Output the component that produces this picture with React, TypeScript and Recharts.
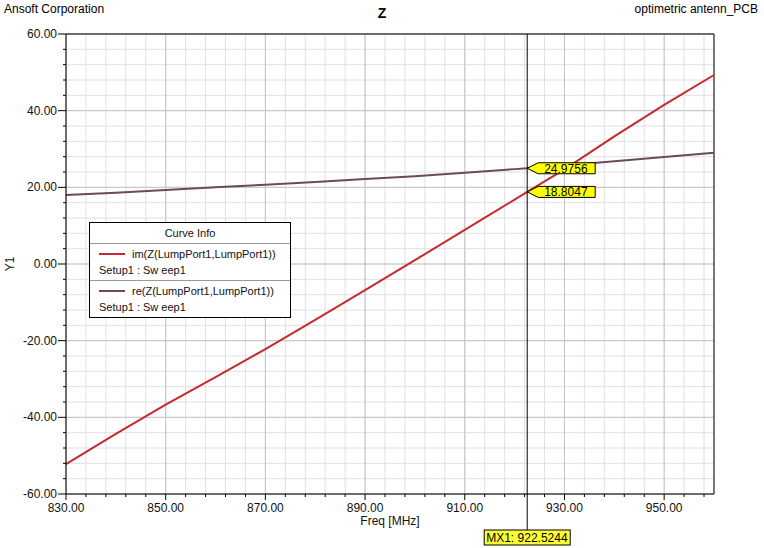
import React from 'react';
import { LineChart, Line, XAxis, YAxis, CartesianGrid, ReferenceLine, ReferenceDot } from 'recharts';

// sweep frequencies (MHz) and the two impedance traces
const freqs = [830, 840, 850, 860, 870, 880, 890, 900, 910, 920, 930, 940, 950, 960];
const imZ = [-52.2, -44.3, -36.7, -29.5, -22.2, -14.6, -6.8, 1.0, 8.9, 16.8, 24.7, 33.3, 41.5, 49.3];
const reZ = [18.0, 18.6, 19.3, 20.0, 20.7, 21.4, 22.15, 22.9, 23.8, 24.75, 25.7, 26.8, 27.9, 29.0];

// marker MX1
const markerFreq = 922.5244;
const markerIm = 18.8047;
const markerRe = 24.9756;

const xMajor = [830, 850, 870, 890, 910, 930, 950];
const yMajor = [-60, -40, -20, 0, 20, 40, 60];
const xMinor = Array.from({ length: 33 }, (_, i) => 830 + i * 4);
const yMinor = Array.from({ length: 31 }, (_, i) => -60 + i * 4);

const IM_COLOR = '#c42a2e';
const RE_COLOR = '#6a4a60';
const FONT = '"Liberation Sans", Arial, sans-serif';

const data = [
  ...freqs.map((f, i) => ({ freq: f, im: imZ[i], re: reZ[i] })),
  { freq: markerFreq, im: markerIm, re: markerRe },
].sort((a, b) => a.freq - b.freq);

const XTick = (props: any) => {
  const { x, y, payload } = props;
  const major = xMajor.includes(payload.value);
  return (
    <g>
      <line x1={x} y1={y} x2={x} y2={y + (major ? 6 : 3)} stroke="#000" />
      {major && (
        <text x={x} y={y + 18} textAnchor="middle" fontSize={12} fontFamily={FONT} fill="#111">
          {payload.value.toFixed(2)}
        </text>
      )}
    </g>
  );
};

const YTick = (props: any) => {
  const { x, y, payload } = props;
  const major = yMajor.includes(payload.value);
  return (
    <g>
      <line x1={x - (major ? 8 : 3)} y1={y} x2={x} y2={y} stroke="#000" />
      {major && (
        <text x={x - 9} y={y + 4} textAnchor="end" fontSize={12} fontFamily={FONT} fill="#111">
          {payload.value.toFixed(2)}
        </text>
      )}
    </g>
  );
};

const Flag = (label: string) => (props: any) => {
  const { cx, cy } = props;
  return (
    <g>
      <polygon
        points={`${cx},${cy} ${cx + 11},${cy - 5.5} ${cx + 68},${cy - 5.5} ${cx + 68},${cy + 5.5} ${cx + 11},${cy + 5.5}`}
        fill="#ffff00"
        stroke="#000"
      />
      <text x={cx + 17} y={cy + 4.5} fontSize={12} fontFamily={FONT} fill="#000">{label}</text>
    </g>
  );
};

const MarkerLabel = (props: any) => {
  const { x, y, height } = props.viewBox;
  const bottom = y + height;
  return (
    <g>
      <line x1={x} y1={bottom} x2={x} y2={bottom + 36} stroke="#000" />
      <rect x={x - 43} y={bottom + 36} width={86} height={15} fill="#ffff33" stroke="#000" />
      <text x={x - 41} y={bottom + 48} fontSize={12} fontFamily={FONT} fill="#000">
        {`MX1: ${markerFreq}`}
      </text>
    </g>
  );
};

export default function App() {
  return (
    <div style={{ position: 'absolute', left: 0, top: 0, width: 764, height: 548, background: '#fff', fontFamily: FONT }}>
      <div style={{ position: 'absolute', left: 4, top: 2, fontSize: 12 }}>Ansoft Corporation</div>
      <div style={{ position: 'absolute', left: 0, width: 764, top: 5, textAlign: 'center', fontSize: 14, fontWeight: 'bold' }}>Z</div>
      <div style={{ position: 'absolute', right: 6, top: 2, fontSize: 12 }}>optimetric antenn_PCB</div>
      <LineChart width={764} height={548} data={data} margin={{ top: 34, right: 50, left: 6, bottom: 24 }}>
        <CartesianGrid stroke="#e0e0e0" />
        {xMajor.map((v) => (
          <ReferenceLine key={`gx${v}`} x={v} stroke="#c4c4c4" />
        ))}
        {yMajor.map((v) => (
          <ReferenceLine key={`gy${v}`} y={v} stroke="#c4c4c4" />
        ))}
        <XAxis
          type="number"
          dataKey="freq"
          domain={[830, 960]}
          ticks={xMinor}
          interval={0}
          tickSize={0}
          tickMargin={0}
          tick={<XTick />}
          stroke="#000"
          height={30}
          label={{
            content: (p: any) => (
              <text x={p.viewBox.x + p.viewBox.width / 2} y={p.viewBox.y + 31} textAnchor="middle" fontSize={12} fontFamily={FONT} fill="#111">
                Freq [MHz]
              </text>
            ),
          }}
        />
        <YAxis
          type="number"
          domain={[-60, 60]}
          ticks={yMinor}
          interval={0}
          tickSize={0}
          tickMargin={0}
          tick={<YTick />}
          stroke="#000"
          width={60}
          label={{
            content: (p: any) => {
              const cy = p.viewBox.y + p.viewBox.height / 2;
              return (
                <text x={14} y={cy} transform={`rotate(-90 14 ${cy})`} textAnchor="middle" fontSize={12} fontFamily={FONT} fill="#111">
                  Y1
                </text>
              );
            },
          }}
        />
        <ReferenceLine y={60} stroke="#000" />
        <ReferenceLine x={960} stroke="#000" />
        <Line dataKey="re" stroke={RE_COLOR} strokeWidth={2} dot={false} isAnimationActive={false} />
        <Line dataKey="im" stroke={IM_COLOR} strokeWidth={2} dot={false} isAnimationActive={false} />
        <ReferenceLine x={markerFreq} stroke="#000" label={<MarkerLabel />} />
        <ReferenceDot x={markerFreq} y={markerRe} shape={Flag(markerRe.toFixed(4))} />
        <ReferenceDot x={markerFreq} y={markerIm} shape={Flag(markerIm.toFixed(4))} />
      </LineChart>
      <div style={{ position: 'absolute', left: 89, top: 222, width: 200, border: '1px solid #000', background: '#fff', fontSize: 11, color: '#111' }}>
        <div style={{ textAlign: 'center', height: 20, lineHeight: '20px', borderBottom: '1px solid #999' }}>Curve Info</div>
        <div style={{ padding: '2px 0 2px 9px', borderBottom: '1px solid #999', lineHeight: '16px' }}>
          <div style={{ display: 'flex', alignItems: 'center' }}>
            <span style={{ display: 'inline-block', width: 26, height: 2, background: IM_COLOR, marginRight: 7 }} />
            im(Z(LumpPort1,LumpPort1))
          </div>
          <div>Setup1 : Sw eep1</div>
        </div>
        <div style={{ padding: '2px 0 2px 9px', lineHeight: '16px' }}>
          <div style={{ display: 'flex', alignItems: 'center' }}>
            <span style={{ display: 'inline-block', width: 26, height: 2, background: RE_COLOR, marginRight: 7 }} />
            re(Z(LumpPort1,LumpPort1))
          </div>
          <div>Setup1 : Sw eep1</div>
        </div>
      </div>
    </div>
  );
}
